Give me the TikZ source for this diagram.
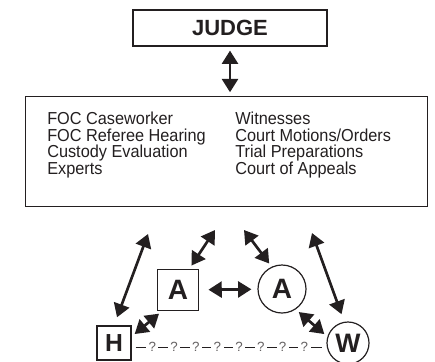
\documentclass[tikz,border=0pt]{standalone}
\usepackage{fontspec}
\setmainfont{Liberation Sans}
\newfontfamily\narrowfont{Liberation Sans}[FakeStretch=0.94]
\usetikzlibrary{arrows.meta}
\usetikzlibrary{positioning}
\definecolor{ink}{RGB}{35,31,32}

\begin{document}
\begin{tikzpicture}[x=0.75pt,y=-0.75pt]
	\useasboundingbox (0,0) rectangle (435,361);
	\begin{scope}[every node/.style={draw=ink, line width=0.9pt, inner sep=0pt, text=ink}]
		\node[minimum width=145.5pt, minimum height=27pt, font=\bfseries\fontsize{16.5}{16.5}\selectfont] (judge) at (230,28) {JUDGE};
		\node[minimum width=302pt, minimum height=82pt] (tasks) at (226.5,151.5) {};
		\node[minimum size=30.75pt, font=\bfseries\fontsize{21}{21}\selectfont] (att1) at (178,290) {A};
		\node[circle, minimum size=36pt, font=\bfseries\fontsize{21}{21}\selectfont] (att2) at (282,289) {A};
		\node[minimum size=25.5pt, font=\bfseries\fontsize{18.5}{18.5}\selectfont] (hus) at (114,343) {H};
		\node[circle, minimum size=31.5pt, font=\bfseries\fontsize{20}{20}\selectfont] (wif) at (348,343) {W};
	\end{scope}

	\begin{scope}[every node/.style={anchor=north west, align=left, inner sep=0pt, text=ink, font=\narrowfont\fontsize{13}{12.4}\selectfont}]
		\node (left) at (47,112) {FOC Caseworker\\FOC Referee Hearing\\Custody Evaluation\\Experts};
		\node (right) at (235,112) {Witnesses\\Court Motions/Orders\\Trial Preparations\\Court of Appeals};
	\end{scope}

	% free ends under the list box
	\coordinate (ltop) at (148,234);
	\coordinate (atop) at (215,230);
	\coordinate (ctop) at (244,230);
	\coordinate (rtop) at (312,233);

	\begin{scope}[>={Triangle[length=10pt,width=12pt]},
	              every edge/.style={draw=ink, line width=2pt, <->, shorten <=3pt, shorten >=3pt}]
		\path (judge.south) edge (judge.south |- tasks.north);
		\path (ltop) edge[shorten <=0pt, shorten >=6.5pt] (hus.north);
		\path (atop) edge[shorten <=0pt] (att1.62);
		\path (ctop) edge[shorten <=0pt] (att2.115);
		\path (rtop) edge[shorten <=0pt, shorten >=6pt] (wif.100);
		\path (att1) edge[shorten <=7pt, shorten >=4.5pt] (att2);
		\path (hus.20) edge (att1.233);
		\path (att2.-56) edge (wif.163);
	\end{scope}

	% unknown link between H and W
	\coordinate (hq) at ([xshift=3pt,yshift=-3pt]hus.east);
	\coordinate (wq) at ([xshift=-3pt,yshift=-3pt]wif.west);
	\draw[ink, line width=0.6pt] (hq) -- (wq);
	\foreach \i [evaluate=\i as \p using 0.089+0.1164*\i] in {0,...,7}
		\path (hq) -- (wq) node[pos=\p, fill=white, inner sep=1.8pt, text=ink!70, font=\fontsize{10}{10}\selectfont] {?};
\end{tikzpicture}
\end{document}
